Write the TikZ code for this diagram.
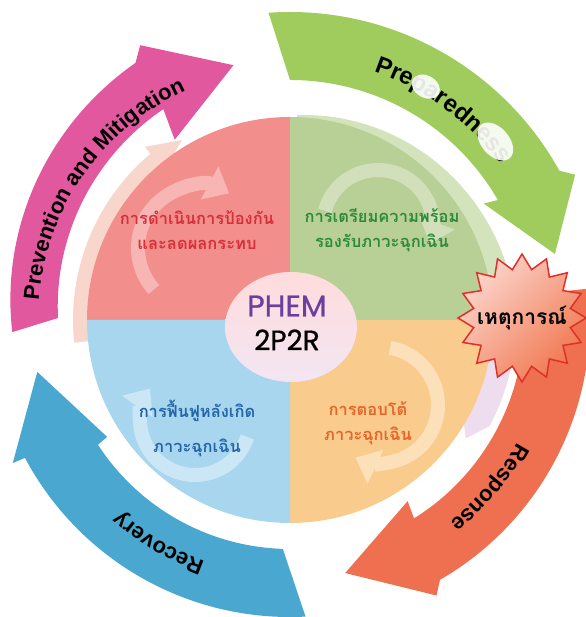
\documentclass[tikz,border=0pt]{standalone}
\usepackage{fontspec}
\usepackage{tikz}
\usetikzlibrary{positioning,shapes.geometric,arrows.meta,decorations.text}
\newfontfamily\thaifont[Script=Thai]{Loma}
\newfontfamily\labelfont{Liberation Sans}
\newfontfamily\roundfont[FakeBold=0.8]{Poppins}
\newcommand{\arrowtxt}{\labelfont\bfseries\fontsize{22}{22}\selectfont}

\definecolor{pinkq}{RGB}{242,143,140}
\definecolor{pinkpale}{RGB}{248,214,204}
\definecolor{greenq}{RGB}{184,207,150}
\definecolor{greenpale}{RGB}{211,228,188}
\definecolor{orangeq}{RGB}{249,203,140}
\definecolor{lavender}{RGB}{238,221,238}
\definecolor{blueq}{RGB}{168,214,238}
\definecolor{magarrow}{RGB}{226,88,158}
\definecolor{grnarrow}{RGB}{160,204,94}
\definecolor{resarrow}{RGB}{239,112,80}
\definecolor{recarrow}{RGB}{74,168,208}
\definecolor{pinktxt}{RGB}{214,48,58}
\definecolor{greentxt}{RGB}{46,139,59}
\definecolor{orangetxt}{RGB}{232,100,42}
\definecolor{bluetxt}{RGB}{36,102,170}
\definecolor{phempurple}{RGB}{107,63,160}
\definecolor{burstred}{RGB}{224,48,42}
\definecolor{burstlight}{RGB}{252,213,204}
\definecolor{burstdark}{RGB}{240,120,80}

\begin{document}
\begin{tikzpicture}[x=1pt,y=1pt,
  swirl/.style={line width=14pt, -{Triangle[width=36pt,length=22pt]}},
  qtext/.style={font=\thaifont\bfseries\fontsize{16.5}{25}\selectfont, align=center},
  hub/.style={ellipse, minimum width=132pt, minimum height=110pt, inner sep=0pt,
              top color=pink!55!white, bottom color=violet!10!white},
  burst/.style={star, star points=16, star point ratio=1.3, minimum size=128pt, inner sep=0pt,
                draw=burstred, line width=1.5pt, top color=burstlight, bottom color=burstdark, shading angle=45},
  blob/.style={white, opacity=0.9}
]
\useasboundingbox (-290,-297) rectangle (295,320);

% pale outer bands
\fill[pinkpale] (186:217) arc[start angle=186, end angle=130, radius=217] -- (130:226) -- (121:210) -- (130:195)
  arc[start angle=130, end angle=186, radius=195] -- cycle;
\fill[greenpale] plot[domain=88:8, samples=30] (\x:{205+20*(88-\x)/80}) -- (0:212) -- (8:195)
  arc[start angle=8, end angle=88, radius=195] -- cycle;
\fill[lavender] (-2:226) arc[start angle=-2, end angle=-28, radius=226] -- (-34:212) -- (-28:195)
  arc[start angle=-28, end angle=-2, radius=195] -- cycle;

% quadrants
\foreach \a/\c in {90/pinkq, 0/greenq, 270/orangeq, 180/blueq}
  \fill[\c] (0,0) -- (\a:203) arc[start angle=\a, end angle=\a+90, radius=203] -- cycle;

% swirls
\draw[swirl, pinkq!65!white] (-90,72) ++(222:62) arc[start angle=222, end angle=62, radius=62];
\draw[swirl, greenq!65!white] (88,95) ++(165:55) arc[start angle=165, end angle=-20, radius=55];
\draw[swirl, orangeq!60!white] (90,-85) ++(80:58) arc[start angle=80, end angle=-115, radius=58];
\draw[swirl, blueq!60!white] (-95,-100) ++(-18:55) arc[start angle=-18, end angle=-215, radius=55];

\node[qtext, text=pinktxt] (prevtxt) at (-93,90) {การดำเนินการป้องกัน\\และลดผลกระทบ};
\node[qtext, text=greentxt] (preptxt) at (92,90) {การเตรียมความพร้อม\\รองรับภาวะฉุกเฉิน};
\node[qtext, text=orangetxt] (resptxt) at (78,-103) {การตอบโต้\\ภาวะฉุกเฉิน};
\node[qtext, text=bluetxt, font=\thaifont\bfseries\fontsize{16.5}{35}\selectfont] (recotxt) at (-93,-108) {การฟื้นฟูหลังเกิด\\ภาวะฉุกเฉิน};

% centre
\node[hub] (hub) at (1,-7) {};
\node[font=\roundfont\fontsize{30}{30}\selectfont, text=phempurple] (phem) at (-3,14) {PHEM};
\node[font=\roundfont\fontsize{28}{28}\selectfont, below=6pt of phem] (code) {2P2R};

% outer arrows
\fill[magarrow] plot[domain=182.5:121, samples=40] (\x:{278+22*(182.5-\x)/61.5}) -- (118.6:313) -- (102.5:261)
  -- (122.6:214) -- plot[domain=121:179.5, samples=40] (\x:{232+14*(179.5-\x)/58.5}) -- cycle;
\fill[grnarrow] (94:308) arc[start angle=94, end angle=29, radius=308] -- (27:320) -- (14:273) -- (31:226)
  -- (30:240) arc[start angle=30, end angle=90, radius=240] -- cycle;
\fill[resarrow] (6:300) arc[start angle=6, end angle=-60, radius=300] -- (-62:312) -- (-77.7:259) -- (-57:216)
  -- (-58:234) arc[start angle=-58, end angle=6, radius=234] -- cycle;
\fill[recarrow] (273:297) arc[start angle=273, end angle=208, radius=300] -- (207.3:312) -- (191.6:258) -- (212.6:217)
  -- (213:229) arc[start angle=213, end angle=268.2, radius=229] -- cycle;

% labels along the arrows
\path[decorate, decoration={text along path, text align=center,
  text={|\arrowtxt|Prevention and Mitigation}}] (178:252) arc[start angle=178, end angle=112, radius=252];
\path[decorate, decoration={text along path, text align=center,
  text={|\labelfont\bfseries\fontsize{24}{24}\selectfont|Preparedness}}] (90:262) arc[start angle=90, end angle=18, radius=262];
\path[decorate, decoration={text along path, text align=center,
  text={|\arrowtxt|Response}}] (-10:258) arc[start angle=-10, end angle=-70, radius=258];
\path[decorate, decoration={text along path, text align=center,
  text={|\arrowtxt|Recovery}}] (265:256) arc[start angle=265, end angle=214, radius=256];

% smudges
\fill[blob, rotate around={-30:(59.8:270)}] (59.8:270) ellipse[x radius=15, y radius=11];
\fill[blob, rotate around={-49:(41:272)}] (41:272) ellipse[x radius=22, y radius=14];

% event
\node[burst] (event) at (232,2) {};
\node[font=\thaifont\bfseries\fontsize{21}{21}\selectfont] (eventtxt) at (event.center) {เหตุการณ์};
\end{tikzpicture}
\end{document}
